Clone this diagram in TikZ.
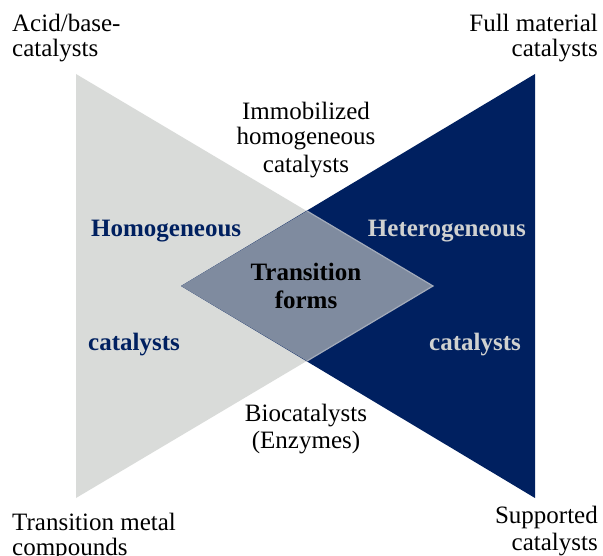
\documentclass[tikz,border=0pt]{standalone}
\usepackage{fontspec}
\setmainfont{Liberation Serif}
\definecolor{lightgrey}{HTML}{D9DBD9}
\definecolor{navy}{HTML}{002060}
\definecolor{mixblue}{HTML}{7F8B9F}
\definecolor{edgegrey}{HTML}{A3ABBA}
\definecolor{paletext}{HTML}{D0D1D0}
\begin{document}
\begin{tikzpicture}[x=1bp,y=-1bp,
  lbl/.style={inner sep=0pt,font=\fontsize{25bp}{25bp}\selectfont},
  bold/.style={lbl,font=\fontsize{25bp}{25bp}\selectfont\bfseries}]
\useasboundingbox (0,0) rectangle (603,556);

% the two overlapping triangles
\fill[lightgrey] (76,74) -- (433,286) -- (76,498) -- cycle;
\fill[navy] (535,74) -- (181,286) -- (535,498) -- cycle;
% their overlap
\coordinate (dl) at (181,286);
\coordinate (dt) at (307,211);
\coordinate (dr) at (433,286);
\coordinate (db) at (307,361);
\fill[mixblue] (dl) -- (dt) -- (dr) -- (db) -- cycle;
\draw[edgegrey,line width=1.2bp] (dt) -- (dr) -- (db);

% corner labels
\node[lbl,anchor=base west] (ab1) at (12,32) {Acid/base-};
\node[lbl,anchor=base west] (ab2) at (12,57) {catalysts};
\node[lbl,anchor=base east] (fm1) at (598,32) {Full material};
\node[lbl,anchor=base east] (fm2) at (598,57) {catalysts};
\node[lbl,anchor=base west] (tm1) at (12,530) {Transition metal};
\node[lbl,anchor=base west] (tm2) at (12,555) {compounds};
\node[lbl,anchor=base east] (sc1) at (598,523) {Supported};
\node[lbl,anchor=base east] (sc2) at (598,550) {catalysts};

% top and bottom centre labels
\node[lbl,anchor=base] (im1) at (306,120) {Immobilized};
\node[lbl,anchor=base] (im2) at (306,145) {homogeneous};
\node[lbl,anchor=base] (im3) at (306,173) {catalysts};
\node[lbl,anchor=base] (bc1) at (306,421) {Biocatalysts};
\node[lbl,anchor=base] (bc2) at (306,448) {(Enzymes)};

% labels inside the triangles
\node[bold,navy,anchor=base west] (ho1) at (91,237) {Homogeneous};
\node[bold,navy,anchor=base west] (ho2) at (88,350) {catalysts};
\node[bold,paletext,anchor=base east] (he1) at (526,237) {Heterogeneous};
\node[bold,paletext,anchor=base east] (he2) at (521,350) {catalysts};
\node[bold,anchor=base] (tf1) at (306,280) {Transition};
\node[bold,anchor=base] (tf2) at (306,308) {forms};
\end{tikzpicture}
\end{document}
